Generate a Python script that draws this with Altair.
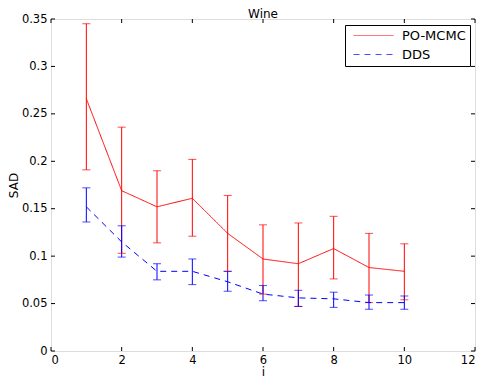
import altair as alt
import pandas as pd

steps = [1, 2, 3, 4, 5, 6, 7, 8, 9, 10]
series_names = ["PO-MCMC", "DDS"]

po_mean = [0.266, 0.169, 0.152, 0.161, 0.124, 0.097, 0.092, 0.108, 0.088, 0.084]
po_lo = [0.191, 0.103, 0.114, 0.121, 0.084, 0.060, 0.047, 0.076, 0.051, 0.054]
po_hi = [0.345, 0.236, 0.190, 0.202, 0.164, 0.133, 0.135, 0.142, 0.124, 0.113]

dds_mean = [0.152, 0.115, 0.084, 0.084, 0.073, 0.060, 0.056, 0.055, 0.051, 0.051]
dds_lo = [0.136, 0.099, 0.075, 0.070, 0.063, 0.053, 0.047, 0.046, 0.044, 0.044]
dds_hi = [0.172, 0.132, 0.092, 0.097, 0.084, 0.069, 0.064, 0.062, 0.059, 0.058]

x_ticks = [0, 2, 4, 6, 8, 10, 12]
y_ticks = [0, 0.05, 0.1, 0.15, 0.2, 0.25, 0.3, 0.35]

rows = []
for name, m, lo, hi in [("PO-MCMC", po_mean, po_lo, po_hi), ("DDS", dds_mean, dds_lo, dds_hi)]:
    for i, a, b, c in zip(steps, m, lo, hi):
        rows.append({"series": name, "i": i, "mean": a, "lo": b, "hi": c})
df = pd.DataFrame(rows)

# canvas must stay within 468 x 372 (page is 484 x 390 with 8px margins)
PAD_L, PAD_T, PAD_R, PAD_B = 43, 11, 1, 28
W, H = 424, 332
FONT = "DejaVu Sans"
FS = 12

xs = alt.Scale(domain=[0, 12], nice=False)
ys = alt.Scale(domain=[0, 0.35], nice=False)
cscale = alt.Scale(domain=series_names, range=["#ff0000", "#0000ff"])
dscale = alt.Scale(domain=series_names, range=[[1, 0], [6, 5]])

xaxis = alt.Axis(values=x_ticks, ticks=False, domain=False, grid=False, title="i",
                 labelPadding=3, titlePadding=1, labelFontSize=11.5, titleFontSize=FS,
                 labelFont=FONT, titleFont=FONT, labelColor="black", titleColor="black",
                 titleFontWeight="normal", format="~g", labelFlush=True)
yaxis = alt.Axis(values=y_ticks, ticks=False, domain=False, grid=False, title="SAD",
                 labelPadding=4, titlePadding=1, labelFontSize=11.5, titleFontSize=FS,
                 labelFont=FONT, titleFont=FONT, labelColor="black", titleColor="black",
                 titleFontWeight="normal", labelFlush=False, format="~g")

base = alt.Chart(df)

color = alt.Color("series:N", scale=cscale, sort=series_names, title=None)
dash = alt.StrokeDash("series:N", scale=dscale, sort=series_names, title=None)

line = base.mark_line(strokeWidth=1).encode(
    x=alt.X("i:Q", scale=xs, axis=xaxis),
    y=alt.Y("mean:Q", scale=ys, axis=yaxis),
    color=color,
    strokeDash=dash,
)

err = base.mark_rule(strokeWidth=1).encode(x="i:Q", y="lo:Q", y2="hi:Q", color=color)
cap_lo = base.mark_tick(orient="horizontal", size=8, thickness=1).encode(x="i:Q", y="lo:Q", color=color)
cap_hi = base.mark_tick(orient="horizontal", size=8, thickness=1).encode(x="i:Q", y="hi:Q", color=color)

xt = alt.Chart(pd.DataFrame({"t": x_ticks}))
yt = alt.Chart(pd.DataFrame({"t": y_ticks}))
tick_b = xt.mark_rule(color="black", strokeWidth=1).encode(x=alt.X("t:Q", scale=xs), y=alt.value(H), y2=alt.value(H - 4))
tick_t = xt.mark_rule(color="black", strokeWidth=1).encode(x=alt.X("t:Q", scale=xs), y=alt.value(0), y2=alt.value(4))
tick_l = yt.mark_rule(color="black", strokeWidth=1).encode(y=alt.Y("t:Q", scale=ys), x=alt.value(0), x2=alt.value(4))
tick_r = yt.mark_rule(color="black", strokeWidth=1).encode(y=alt.Y("t:Q", scale=ys), x=alt.value(W), x2=alt.value(W - 4))

chart = alt.layer(tick_b, tick_t, tick_l, tick_r, err, cap_lo, cap_hi, line).properties(
    width=W, height=H,
    title=alt.TitleParams("Wine", font=FONT, fontSize=FS, fontWeight="normal", color="black",
                          offset=-17, baseline="alphabetic", frame="group", anchor="middle"),
    autosize=alt.AutoSizeParams(type="none"),
    padding={"left": PAD_L, "top": PAD_T, "right": PAD_R, "bottom": PAD_B},
).configure_view(stroke="black", strokeWidth=1).configure(background="white").configure_legend(
    orient="none", legendX=294, legendY=6, symbolType="M-0.333,0H6.333", symbolSize=144,
    symbolStrokeWidth=1, labelFont=FONT, labelFontSize=13, labelColor="black",
    strokeColor="black", fillColor="white", padding=4, rowPadding=5, labelOffset=40,
)

chart.save("out.html", embed_options={"renderer": "svg", "actions": False})
